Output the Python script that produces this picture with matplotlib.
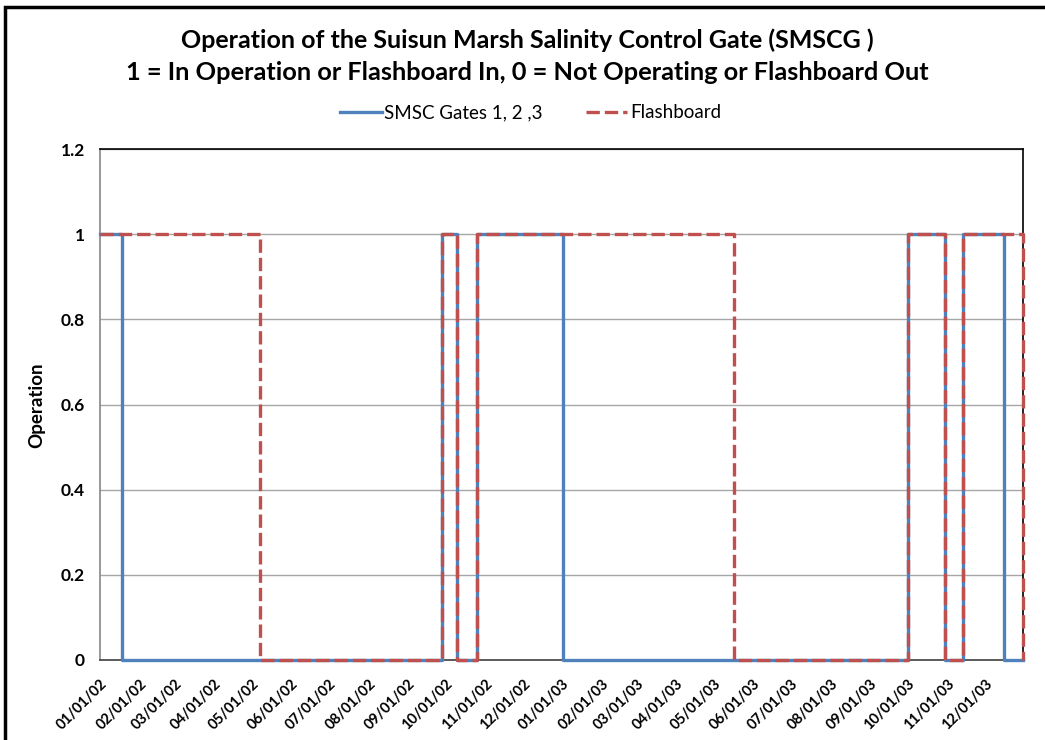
import matplotlib
matplotlib.use('Agg')
import matplotlib.pyplot as plt
import matplotlib.dates as mdates
import matplotlib.patches as patches
import numpy as np

plt.rcParams['font.family'] = ['Lato', 'DejaVu Sans']

# Datos (cambios de estado, dibujados como escalones)
gate_dates = ['2002-01-01', '2002-01-18', '2002-09-28', '2002-10-10', '2002-10-26',
              '2003-01-02', '2003-10-01', '2003-10-30', '2003-11-14', '2003-12-16',
              '2003-12-31']
gate_vals = [1, 0, 1, 0, 1, 0, 1, 0, 1, 0, 0]

flash_dates = ['2002-01-01', '2002-05-07', '2002-09-28', '2002-10-10', '2002-10-26',
               '2003-05-17', '2003-10-01', '2003-10-30', '2003-11-14', '2003-12-31']
flash_vals = [1, 0, 1, 0, 1, 0, 1, 0, 1, 0]

tick_dates = np.arange('2002-01', '2004-01', dtype='datetime64[M]').astype('datetime64[D]')

title1 = 'Operation of the Suisun Marsh Salinity Control Gate (SMSCG )'
title2 = '1 = In Operation or Flashboard In, 0 = Not Operating or Flashboard Out'

fig = plt.figure(figsize=(10.45, 7.4), dpi=100)
ax = fig.add_axes([100/1045, 1 - 660/740, 923/1045, 511/740])

g_x = np.array(gate_dates, dtype='datetime64[D]')
f_x = np.array(flash_dates, dtype='datetime64[D]')

ax.plot(g_x, gate_vals, drawstyle='steps-post', color='#4F81BD', lw=2.4,
        label='SMSC Gates 1, 2 ,3', zorder=3, clip_on=False)
ax.plot(f_x, flash_vals, drawstyle='steps-post', color='#C0504D', lw=2.4,
        ls=(0, (4, 1.5)), label='Flashboard', zorder=4, clip_on=False)

ax.set_xlim(np.datetime64('2002-01-01'), np.datetime64('2003-12-31'))
ax.set_ylim(0, 1.2)
ax.set_yticks(np.arange(0, 1.21, 0.2))
ax.set_yticklabels(['0', '0.2', '0.4', '0.6', '0.8', '1', '1.2'], fontweight='bold', fontsize=12.5)
ax.set_xticks(tick_dates)
ax.xaxis.set_major_formatter(mdates.DateFormatter('%m/%d/%y'))
for lbl in ax.get_xticklabels():
    lbl.set_rotation(45)
    lbl.set_ha('right')
    lbl.set_rotation_mode('anchor')
    lbl.set_fontweight('bold')
    lbl.set_fontsize(10.5)
ax.tick_params(axis='y', length=0, pad=11)
ax.tick_params(axis='x', length=0, pad=12)

ax.grid(axis='y', color='#A6A6A6', lw=1)
ax.set_axisbelow(True)
ax.spines['left'].set_color('#868686')
ax.spines['bottom'].set_color('#404040')
ax.spines['top'].set_color('black')
ax.spines['right'].set_color('black')
for s in ax.spines.values():
    s.set_linewidth(1.2)

fig.text(37/1045, 1 - 405/740, 'Operation', rotation=90, ha='center', va='center',
         fontweight='bold', fontsize=13.5)

fig.text(0.505, 1 - 40/740, title1, ha='center', va='center', fontweight='bold', fontsize=18)
fig.text(0.505, 1 - 73/740, title2, ha='center', va='center', fontweight='bold', fontsize=18.3)

fig.legend(loc='center', bbox_to_anchor=(0.508, 1 - 113/740), ncol=2, frameon=False,
           fontsize=13.5, handlelength=2.2, handletextpad=0.15, columnspacing=2.3)

# Borde exterior del grafico
fig.patches.append(patches.Rectangle((5/1045, -0.1), 1.2, 1.1 - 7/740, transform=fig.transFigure,
                                     fill=False, lw=2.5, ec='black'))

fig.savefig('out.png', dpi=100)
